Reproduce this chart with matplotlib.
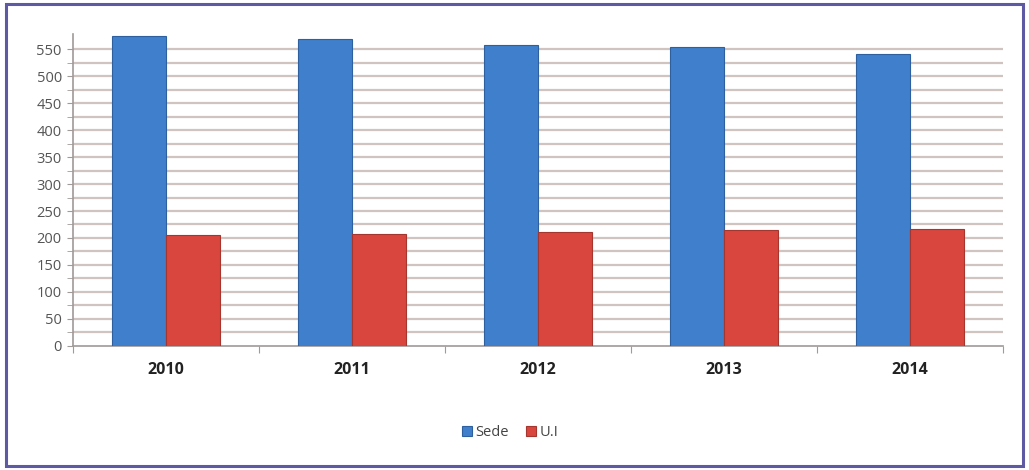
import matplotlib
matplotlib.use("Agg")
import matplotlib.pyplot as plt
from matplotlib.patches import Rectangle
import numpy as np

years = ["2010", "2011", "2012", "2013", "2014"]
sede = [575, 570, 558, 554, 542]
ui = [205, 207, 211, 214, 217]
y_ticks = list(range(0, 551, 50))
grid_lines = list(range(25, 551, 25))


def main():
    plt.rcParams["font.family"] = ["Open Sans", "DejaVu Sans"]
    fig = plt.figure(figsize=(10.29, 4.70), dpi=100)
    fig.patch.set_facecolor("white")

    # purple frame round the whole figure
    fig.patches.append(Rectangle((0.006, 0.008), 0.988, 0.984, transform=fig.transFigure,
                                 fill=False, edgecolor="#5d5aa3", linewidth=2.2))

    ax = fig.add_axes([0.0709, 0.2645, 0.9038, 0.6625])
    x = np.arange(len(years))
    w = 0.29

    for g in grid_lines:
        ax.axhline(g, color="#cfc4c0", linewidth=1.6, zorder=1)

    ax.bar(x - w / 2, sede, w, color="#3f7fcb", edgecolor="#2e609f",
           linewidth=0.8, label="Sede", zorder=3)
    ax.bar(x + w / 2, ui, w, color="#d9463e", edgecolor="#a5352f",
           linewidth=0.8, label="U.I", zorder=3)

    ax.set_xlim(-0.5, len(years) - 0.5)
    ax.set_ylim(0, 578)

    ax.set_yticks(y_ticks)
    ax.set_yticklabels([str(v) for v in y_ticks], fontsize=10.5, color="#555555")
    ax.set_yticks(grid_lines, minor=True)
    ax.tick_params(axis="y", which="both", length=4, color="#a09a98", pad=4)

    # ticks at category boundaries, labels at centres
    ax.set_xticks(np.arange(-0.5, len(years), 1.0))
    ax.set_xticklabels([])
    ax.tick_params(axis="x", which="major", length=5, color="#a09a98")
    ax.set_xticks(x, minor=True)
    ax.set_xticklabels(years, minor=True, fontsize=11.5, fontweight="bold", color="#222222")
    ax.tick_params(axis="x", which="minor", length=0, pad=12)

    for side in ["top", "right"]:
        ax.spines[side].set_visible(False)
    ax.spines["left"].set_color("#a09a98")
    ax.spines["bottom"].set_color("#a09a98")
    ax.spines["left"].set_linewidth(1.2)
    ax.spines["bottom"].set_linewidth(1.2)

    ax.legend(loc="center", bbox_to_anchor=(0.47, -0.28), ncol=2, frameon=False,
              fontsize=10.5, handlelength=0.7, handleheight=0.7, handletextpad=0.2,
              columnspacing=1.2, labelcolor="#444444")

    fig.savefig("out.png", dpi=100)


if __name__ == "__main__":
    main()
